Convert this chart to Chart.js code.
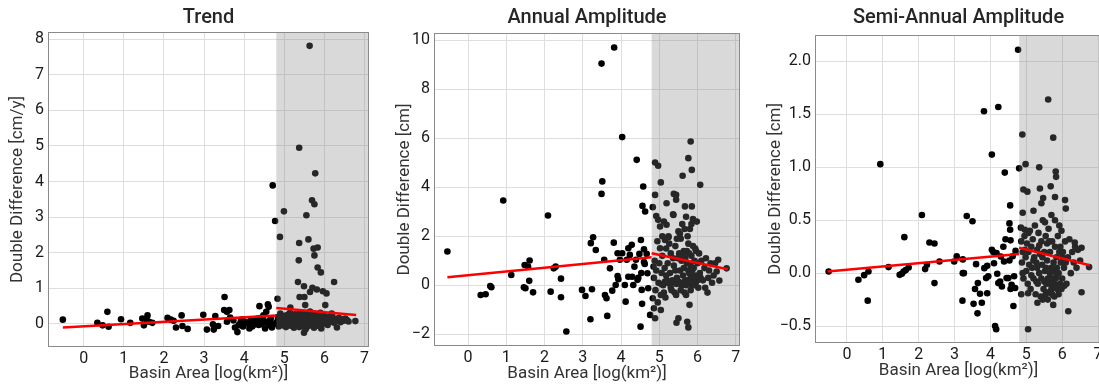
<!DOCTYPE html>
<html>
<head>
<meta charset="utf-8">
<script src="https://cdn.jsdelivr.net/npm/chart.js@4.4.1/dist/chart.umd.min.js"></script>
<style>
  html, body { margin: 0; padding: 0; background: #fff; overflow: hidden; width: 1099px; height: 389px; position: relative; }
  canvas { position: absolute; top: 0; }
</style>
</head>
<body>
<canvas id="trend"></canvas>
<canvas id="annual"></canvas>
<canvas id="semi"></canvas>
<script>
// x ticks shared by every panel
const xTicks = [0, 1, 2, 3, 4, 5, 6, 7];
const xRange = [-0.89, 7.11];
const shadeFrom = 4.8;

// Trend [cm/y]
const trendYTicks = [0, 1, 2, 3, 4, 5, 6, 7, 8];
const trendYRange = [-0.66, 8.21];
const trendPoints = [
  [-0.52, 0.11], [0.34, 0.02], [0.47, -0.05], [0.59, 0.33], [0.62, -0.09], [0.93, 0.12], [1.16, 0.02],
  [1.46, 0.14], [1.50, -0.05], [1.59, 0.23], [1.57, 0.09], [1.63, 0.05], [1.71, 0.02], [2.09, 0.16],
  [2.17, 0.11], [2.24, 0.08], [2.30, -0.11], [2.44, 0.23], [2.46, -0.07], [2.59, -0.15], [2.98, 0.25],
  [3.07, -0.17], [3.22, -0.02], [3.24, -0.17], [3.28, 0.21], [3.35, -0.07], [3.51, 0.75], [3.50, 0.38],
  [3.57, 0.33], [3.63, 0.38], [3.57, 0.05], [3.65, 0.17], [3.73, 0.09], [3.77, -0.11], [3.83, -0.24],
  [3.86, -0.05], [3.92, 0.09], [3.97, -0.08], [4.02, 0.05], [4.08, 0.00], [4.13, -0.14], [4.16, 0.09],
  [4.22, -0.05], [4.25, 0.08], [4.30, 0.00], [4.33, 0.14], [4.38, 0.49], [4.40, 0.08], [4.44, -0.02],
  [4.48, 0.23], [4.52, -0.14], [4.55, 0.33], [4.56, 0.05], [4.59, 0.54], [4.61, 0.47], [4.63, -0.05],
  [4.65, 0.09], [4.69, -0.11], [4.71, 3.89], [4.73, -0.02], [4.77, 2.89], [4.05, 0.02], [4.18, 0.10],
  [4.28, 0.05], [4.36, -0.04], [4.46, 0.10], [4.58, 0.02], [4.66, 0.14], [4.20, -0.08], [4.42, 0.16],
  [4.50, 0.06], [3.95, 0.12], [3.88, -0.02],
  [4.83, 0.70], [4.89, 2.44], [4.99, 3.16], [5.37, 4.95], [5.34, 1.17], [5.36, 1.78], [5.37, 2.27],
  [5.38, 0.75], [5.49, 1.05], [5.50, 0.75], [5.55, 3.05], [5.60, 2.37], [5.63, 7.82], [5.64, 0.89],
  [5.70, 1.01], [5.69, 3.47], [5.73, 2.11], [5.75, 3.36], [5.75, 1.92], [5.77, 4.23], [5.81, 0.96],
  [5.83, 2.14], [5.83, 1.58], [5.91, 1.44], [5.96, 0.91], [6.02, 0.52], [6.05, 0.85], [6.24, 1.17],
  [6.31, -0.11], [5.49, -0.26], [5.15, 0.45], [5.52, 0.52], [6.77, 0.07], [6.18, 0.28],
  [4.82, 0.05], [4.84, 0.18], [4.86, -0.08], [4.88, 0.12], [4.90, 0.28], [4.92, 0.02], [4.94, 0.15],
  [4.96, -0.05], [4.98, 0.22], [5.00, 0.08], [5.02, 0.18], [5.04, -0.10], [5.06, 0.10], [5.08, 0.25],
  [5.10, 0.00], [5.12, 0.14], [5.14, 0.30], [5.16, -0.06], [5.18, 0.20], [5.20, 0.06], [5.22, 0.16],
  [5.24, -0.12], [5.26, 0.26], [5.28, 0.04], [5.30, 0.12], [5.32, 0.20], [5.34, -0.04], [5.36, 0.08],
  [5.38, 0.30], [5.40, 0.00], [5.42, 0.14], [5.44, 0.22], [5.46, -0.08], [5.48, 0.10], [5.50, 0.18],
  [5.52, 0.04], [5.54, 0.28], [5.56, -0.10], [5.58, 0.12], [5.60, 0.20], [5.62, 0.06], [5.64, 0.34],
  [5.66, -0.02], [5.68, 0.16], [5.70, 0.24], [5.72, 0.08], [5.74, -0.12], [5.76, 0.18], [5.78, 0.02],
  [5.80, 0.26], [5.82, 0.10], [5.84, -0.06], [5.86, 0.20], [5.88, 0.12], [5.90, 0.30], [5.92, -0.14],
  [5.94, 0.06], [5.96, 0.16], [5.98, 0.00], [6.00, 0.22], [6.04, 0.10], [6.08, -0.04], [6.12, 0.14],
  [6.16, 0.06], [6.20, 0.20], [6.24, 0.02], [6.28, 0.12], [6.32, 0.08], [6.36, 0.16], [6.40, 0.04],
  [6.44, 0.12], [6.48, 0.08], [6.52, 0.14], [6.56, 0.10], [6.60, 0.06], [5.05, 0.02], [5.15, 0.10],
  [5.25, 0.00], [5.35, 0.15], [5.45, 0.05], [5.55, 0.12], [5.65, 0.00], [5.75, 0.10], [5.85, 0.04],
  [5.95, 0.10], [5.27, 0.22], [5.43, -0.02], [5.57, 0.24], [5.63, 0.10], [5.71, 0.04], [5.79, 0.14],
  [5.87, -0.02], [5.93, 0.20], [5.53, -0.16], [5.67, 0.20], [5.33, 0.06], [5.19, 0.14], [5.09, -0.02],
  [4.97, 0.10], [5.61, -0.06], [5.73, 0.28], [5.83, 0.18], [5.47, 0.26], [5.37, -0.10], [6.02, 0.06],
  [6.10, 0.18], [6.06, 0.02]
];
const trendFitLeft = [[-0.52, -0.11], [4.8, 0.23]];
const trendFitRight = [[4.8, 0.44], [6.79, 0.24]];

// Annual amplitude [cm]
const annualYTicks = [-2, 0, 2, 4, 6, 8, 10];
const annualYRange = [-2.48, 10.30];
const annualPoints = [
  [-0.54, 1.38], [0.33, -0.40], [0.46, -0.37], [0.58, -0.03], [0.61, -0.08], [0.92, 3.46], [1.13, 0.42],
  [1.46, -0.08], [1.50, -0.12], [1.48, 0.83], [1.57, 0.76], [1.61, 1.01], [1.60, 0.18], [1.70, -0.29],
  [2.09, 2.85], [2.16, -0.26], [2.24, 0.69], [2.29, 0.76], [2.43, 0.27], [2.43, -0.49], [2.57, -1.89],
  [2.98, -0.19], [3.07, -0.44], [3.20, -1.39], [3.21, 1.72], [3.24, -0.16], [3.27, 1.96], [3.34, 1.44],
  [3.49, 9.05], [3.49, 3.73], [3.51, 4.24], [3.56, 1.04], [3.58, -0.40], [3.62, -0.53], [3.64, -1.25],
  [3.71, 0.69], [3.77, -0.22], [3.82, 9.71], [3.81, 1.74], [3.86, 0.01], [3.91, 1.31], [3.91, 0.38],
  [3.93, 0.25], [3.97, 1.04], [4.03, 6.05], [4.03, 1.31], [4.10, 0.01], [4.12, -0.67], [4.15, 1.04],
  [4.19, 1.51], [4.19, 0.35], [4.23, 1.24], [4.28, 1.65], [4.29, 0.35], [4.32, 0.01], [4.35, 0.76],
  [4.39, 1.04], [4.41, 5.12], [4.43, 0.22], [4.48, 1.28], [4.51, -1.69], [4.52, 1.85], [4.54, -0.19],
  [4.55, -0.76], [4.56, 3.24], [4.58, 4.03], [4.60, 1.47], [4.62, 0.87], [4.63, 3.01], [4.67, 1.28],
  [4.69, 0.49], [4.71, -0.12], [4.76, -1.21], [4.53, 0.50], [4.45, 0.30], [4.60, 0.95],
  [4.89, 5.01], [4.97, 4.88], [5.04, 4.20], [4.89, 3.69], [4.83, 3.19], [4.92, 2.83], [4.97, 2.67],
  [5.02, 1.51], [4.85, 0.76], [4.83, -0.53], [4.86, -0.94], [4.89, -1.35], [5.04, -1.01], [5.19, 3.35],
  [5.38, 3.73], [5.44, 3.69], [5.37, 2.87], [5.44, 3.49], [5.19, 2.47], [5.24, 1.96], [5.15, 1.85],
  [5.61, 4.47], [5.76, 5.19], [5.82, 5.87], [5.85, 4.71], [6.07, 4.10], [5.67, 3.22], [5.85, 3.22],
  [5.50, -1.35], [5.45, -1.53], [5.73, -1.49], [5.76, -1.72], [5.79, -0.80], [6.76, 0.69], [6.54, 1.04],
  [6.50, 0.56], [6.57, 0.19],
  [4.86, 0.30], [4.88, 1.00], [4.90, -0.20], [4.92, 0.60], [4.95, 1.80], [4.98, 0.10], [5.00, 0.90],
  [5.02, 2.40], [5.04, -0.40], [5.06, 0.50], [5.08, 1.20], [5.10, 0.00], [5.12, 2.60], [5.14, 0.70],
  [5.16, -0.50], [5.18, 1.50], [5.20, 0.20], [5.22, 0.90], [5.24, 2.00], [5.26, 0.10], [5.28, 0.50],
  [5.30, 1.30], [5.32, -0.20], [5.34, 0.20], [5.36, 2.90], [5.38, 0.80], [5.40, 0.10], [5.42, 1.60],
  [5.44, -0.40], [5.46, 0.30], [5.48, 1.10], [5.50, 2.20], [5.52, 0.10], [5.54, 0.60], [5.56, 1.90],
  [5.58, 0.00], [5.60, 2.50], [5.62, 0.40], [5.64, 1.40], [5.66, -0.30], [5.68, 0.20], [5.70, 2.80],
  [5.72, 0.90], [5.74, 0.10], [5.76, 1.70], [5.78, 0.50], [5.80, 2.30], [5.82, -0.20], [5.84, 1.20],
  [5.86, 0.30], [5.88, 2.70], [5.90, 0.70], [5.92, 0.00], [5.94, 1.50], [5.96, 0.40], [5.98, 2.60],
  [6.00, 0.90], [6.02, -0.10], [6.04, 1.30], [6.06, 0.50], [6.10, 1.00], [6.14, 0.20], [6.18, 0.70],
  [6.22, 1.10], [6.26, -0.30], [6.30, 0.60], [6.34, 0.90], [6.38, 0.10], [6.42, 0.40], [6.46, 0.90],
  [5.45, 0.05], [5.50, 0.15], [5.55, 0.10], [5.60, 0.05], [5.65, 0.12], [5.70, 0.00], [5.75, 0.20],
  [5.80, 0.10], [5.85, 0.00], [5.90, 0.18], [5.95, 0.08], [6.00, 0.20], [5.35, 0.12], [5.25, 0.08],
  [5.15, 0.15], [5.05, 0.05], [5.58, 1.00], [5.62, 1.20], [5.68, 1.10], [5.72, 1.40], [5.78, 1.30],
  [5.82, 0.80], [5.88, 1.60], [5.92, 1.00], [5.54, 2.10], [5.66, 2.30], [5.74, 2.00], [5.84, 2.50],
  [5.52, 1.30], [5.96, 1.40], [5.42, 0.60], [5.46, 1.90], [5.36, 1.10], [5.26, 1.70], [5.18, 0.40],
  [5.08, 2.00], [4.96, -0.70], [5.12, -0.30], [5.30, -0.10], [5.56, -0.20], [5.64, 0.70], [5.76, 0.60],
  [5.86, 0.60], [5.94, 0.30], [6.08, 0.30], [6.20, -0.10], [6.28, 0.30], [5.40, -0.30], [5.70, -0.40],
  [5.82, 0.40]
];
const annualFitLeft = [[-0.54, 0.33], [4.8, 1.14]];
const annualFitRight = [[4.8, 1.31], [6.79, 0.65]];

// Semi-annual amplitude [cm]
const semiYTicks = [-0.5, 0, 0.5, 1.0, 1.5, 2.0];
const semiYRange = [-0.66, 2.25];
const semiPoints = [
  [-0.51, 0.016], [0.32, -0.063], [0.48, -0.019], [0.60, 0.016], [0.58, -0.26], [0.93, 1.03], [1.16, 0.057],
  [1.47, -0.016], [1.53, -0.006], [1.58, 0.016], [1.60, 0.34], [1.64, 0.03], [1.72, 0.053], [2.09, 0.55],
  [2.18, 0.038], [2.23, 0.08], [2.30, 0.29], [2.44, 0.28], [2.44, -0.094], [2.58, 0.11], [2.99, 0.11],
  [3.06, 0.16], [3.23, 0.0], [3.26, 0.0], [3.22, -0.26], [3.23, 0.13], [3.34, 0.54], [3.50, 0.49],
  [3.53, -0.29], [3.57, -0.15], [3.60, 0.085], [3.64, -0.38], [3.65, -0.094], [3.71, -0.195], [3.76, -0.28],
  [3.82, 1.53], [3.83, 0.047], [3.88, -0.047], [3.91, -0.19], [3.91, 0.07], [3.94, -0.03], [4.04, 1.12],
  [4.04, 0.22], [4.08, 0.20], [4.10, 0.094], [4.13, -0.50], [4.16, -0.53], [4.17, 0.19], [4.19, -0.006],
  [4.22, 1.57], [4.22, -0.094], [4.27, -0.08], [4.29, 0.157], [4.32, -0.126], [4.36, 0.25], [4.38, 0.11],
  [4.40, 0.95], [4.42, 0.32], [4.45, -0.047], [4.50, -0.047], [4.53, 0.12], [4.53, 0.47], [4.55, 0.64],
  [4.55, 0.41], [4.56, 0.31], [4.56, -0.15], [4.59, -0.11], [4.62, 0.16], [4.64, -0.31], [4.66, -0.03],
  [4.69, -0.14], [4.70, 0.21], [4.77, 2.11], [4.80, 0.99],
  [4.89, 1.31], [4.92, 0.79], [5.03, 0.77], [4.98, 1.03], [4.90, 0.57], [4.85, 0.43], [4.96, 0.41],
  [5.05, -0.19], [5.05, -0.53], [4.86, -0.20], [5.36, 1.00], [5.61, 1.64], [5.75, 1.28], [5.82, 0.96],
  [5.83, 0.91], [5.68, 0.82], [5.38, 0.80], [5.47, 0.71], [5.42, 0.66], [5.20, 0.59], [5.80, 0.72],
  [6.08, 0.69], [6.10, 0.61], [6.35, 0.29], [6.54, 0.24], [6.75, 0.057], [6.54, -0.18], [6.17, -0.36],
  [5.75, -0.30], [5.31, -0.28],
  [4.86, 0.30], [4.88, 0.10], [4.90, 0.20], [4.92, -0.05], [4.95, 0.35], [4.98, 0.15], [5.00, 0.02],
  [5.02, 0.28], [5.04, -0.10], [5.06, 0.20], [5.08, 0.08], [5.10, 0.40], [5.12, -0.15], [5.14, 0.25],
  [5.16, 0.05], [5.18, 0.32], [5.20, -0.05], [5.22, 0.15], [5.24, 0.45], [5.26, -0.20], [5.28, 0.10],
  [5.30, 0.22], [5.32, -0.10], [5.34, 0.38], [5.36, 0.00], [5.38, 0.18], [5.40, -0.22], [5.42, 0.30],
  [5.44, 0.08], [5.46, 0.50], [5.48, -0.15], [5.50, 0.20], [5.52, 0.02], [5.54, 0.35], [5.56, -0.10],
  [5.58, 0.12], [5.60, -0.25], [5.62, 0.42], [5.64, -0.05], [5.66, 0.20], [5.68, -0.18], [5.70, 0.05],
  [5.72, 0.30], [5.74, -0.12], [5.76, 0.10], [5.78, -0.22], [5.80, 0.25], [5.82, -0.05], [5.84, 0.15],
  [5.86, -0.15], [5.88, 0.35], [5.90, 0.00], [5.92, 0.20], [5.94, -0.10], [5.96, 0.10], [5.98, 0.40],
  [6.00, -0.05], [6.02, 0.20], [6.05, 0.05], [6.08, 0.30], [6.12, -0.10], [6.16, 0.15], [6.20, 0.32],
  [6.24, 0.00], [6.28, 0.20], [6.32, 0.10], [6.36, 0.25], [6.40, 0.05], [6.44, 0.22], [6.50, 0.12],
  [5.60, -0.05], [5.65, -0.10], [5.70, -0.15], [5.75, -0.05], [5.80, -0.12], [5.62, -0.18], [5.68, -0.08],
  [5.72, -0.20], [5.78, -0.10], [5.84, -0.02], [5.55, 0.05], [5.50, -0.08], [5.45, 0.15], [5.85, 0.05],
  [5.90, -0.20], [5.95, 0.25], [5.66, 0.00], [5.74, 0.02], [5.58, 0.28], [5.52, 0.48], [5.42, -0.05],
  [5.36, 0.26], [5.28, -0.08], [5.20, 0.12], [5.14, -0.02], [5.06, 0.38], [4.96, 0.22], [4.90, 0.00],
  [5.30, 0.05], [6.10, 0.10], [6.00, 0.15], [5.98, -0.15], [6.06, -0.12], [5.92, 0.45], [5.70, 0.55],
  [5.80, 0.50], [5.64, 0.30], [5.54, -0.20], [5.46, -0.25]
];
const semiFitLeft = [[-0.54, 0.015], [4.8, 0.18]];
const semiFitRight = [[4.8, 0.24], [6.77, 0.075]];

const FONT = 'Roboto, "DejaVu Sans", sans-serif';
const toXY = pts => pts.map(p => ({ x: p[0], y: p[1] }));
const fmt = d => v => (v < 0 ? '\u2212' : '') + Math.abs(v).toFixed(d);

const shadePlugin = {
    id: 'shade',
    afterDatasetDraw(chart, args) {
        if (args.index !== 0) return; // only after the scatter, before the fit lines
        const { ctx, chartArea: a, scales: { x } } = chart;
        const x0 = x.getPixelForValue(shadeFrom);
        ctx.save();
        ctx.fillStyle = 'rgba(128,128,128,0.3)';
        ctx.fillRect(x0, a.top, a.right - x0, a.bottom - a.top);
        ctx.restore();
    },
    afterDraw(chart) {
        const { ctx, chartArea: a } = chart;
        ctx.save();
        ctx.strokeStyle = '#8a8a8a';
        ctx.lineWidth = 1;
        ctx.strokeRect(Math.round(a.left) + 0.5, Math.round(a.top) + 0.5,
            Math.round(a.right - a.left) - 1, Math.round(a.bottom - a.top) - 1);
        ctx.restore();
    }
};

function makePanel(p) {
    const canvas = document.getElementById(p.id);
    canvas.width = p.yW + p.areaW + 6;
    canvas.height = 389;
    canvas.style.left = p.left + 'px';

    const lineStyle = {
        type: 'scatter', showLine: true, borderColor: '#ff0000', borderWidth: 2.5,
        pointRadius: 0, order: 1
    };

    new Chart(canvas, {
        type: 'scatter',
        data: {
            datasets: [
                { data: toXY(p.points), backgroundColor: '#000', borderWidth: 0, pointRadius: 3.3, order: 2 },
                Object.assign({ data: toXY(p.fitLeft) }, lineStyle),
                Object.assign({ data: toXY(p.fitRight) }, lineStyle)
            ]
        },
        options: {
            responsive: false,
            animation: false,
            layout: { padding: { left: 0, right: 6, top: 0, bottom: 0 } },
            plugins: {
                legend: { display: false },
                tooltip: { enabled: false },
                title: {
                    display: true, text: p.title, color: '#262626', fullSize: false,
                    font: { family: FONT, size: 20, weight: '500' },
                    padding: { top: 6, bottom: p.top - 6 - 24 }
                }
            },
            scales: {
                x: {
                    min: xRange[0], max: xRange[1],
                    afterBuildTicks: s => { s.ticks = xTicks.map(v => ({ value: v })); },
                    afterFit: s => { s.height = 389 - p.bottom; },
                    grid: { color: '#dedede', drawTicks: false },
                    border: { display: false },
                    ticks: { autoSkip: false, maxRotation: 0, padding: 2, color: '#1a1a1a', font: { family: FONT, size: 16 } },
                    title: {
                        display: true, text: 'Basin Area [log(km\u00b2)]', color: '#333',
                        font: { family: FONT, size: 17 }, padding: { top: 0, bottom: p.xTitleGap }
                    }
                },
                y: {
                    min: p.yRange[0], max: p.yRange[1],
                    afterBuildTicks: s => { s.ticks = p.yTicks.map(v => ({ value: v })); },
                    afterFit: s => { s.width = p.yW; },
                    grid: { color: '#dedede', drawTicks: false },
                    border: { display: false },
                    ticks: { autoSkip: false, padding: 4, color: '#1a1a1a', font: { family: FONT, size: 16 }, callback: fmt(p.dec) },
                    title: {
                        display: true, text: p.yTitle, color: '#333',
                        font: { family: FONT, size: 17 }, padding: { top: p.yTitleGap, bottom: 0 }
                    }
                }
            }
        },
        plugins: [shadePlugin]
    });
}

makePanel({
    id: 'trend', title: 'Trend', left: 0, yW: 48, areaW: 321, top: 32, bottom: 347,
    xTitleGap: 4.8, yTitleGap: 7.8, yTitle: 'Double Difference [cm/y]', dec: 0,
    yRange: trendYRange, yTicks: trendYTicks, points: trendPoints, fitLeft: trendFitLeft, fitRight: trendFitRight
});
makePanel({
    id: 'annual', title: 'Annual Amplitude', left: 370, yW: 64, areaW: 306, top: 33, bottom: 346,
    xTitleGap: 4.8, yTitleGap: 24.8, yTitle: 'Double Difference [cm]', dec: 0,
    yRange: annualYRange, yTicks: annualYTicks, points: annualPoints, fitLeft: annualFitLeft, fitRight: annualFitRight
});
makePanel({
    id: 'semi', title: 'Semi-Annual Amplitude', left: 746, yW: 69, areaW: 287, top: 35, bottom: 343,
    xTitleGap: 7.8, yTitleGap: 19.8, yTitle: 'Double Difference [cm]', dec: 1,
    yRange: semiYRange, yTicks: semiYTicks, points: semiPoints, fitLeft: semiFitLeft, fitRight: semiFitRight
});
</script>
</body>
</html>
